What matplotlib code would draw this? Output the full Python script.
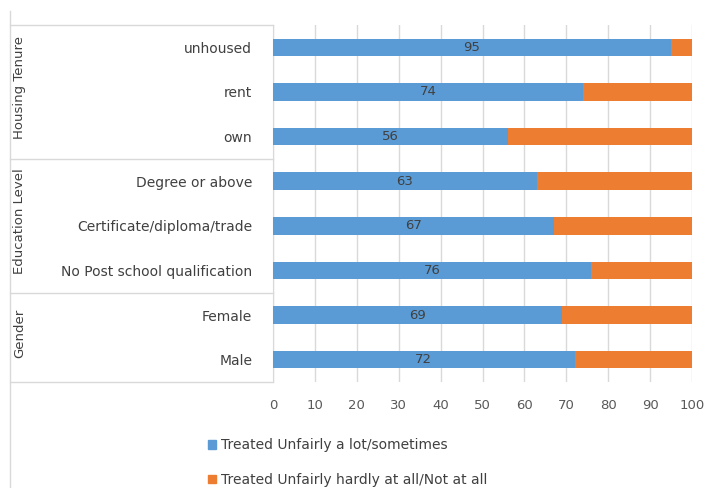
import matplotlib.pyplot as plt
from matplotlib.lines import Line2D
from matplotlib.patches import Patch
import matplotlib.transforms as mtransforms

# top to bottom, as in the chart
categories = ["unhoused", "rent", "own",
              "Degree or above", "Certificate/diploma/trade", "No Post school qualification",
              "Female", "Male"]
unfair_often = [95, 74, 56, 63, 67, 76, 69, 72]
unfair_rarely = [5, 26, 44, 37, 33, 24, 31, 28]
groups = ["Housing Tenure", "Education Level", "Gender"]
group_sizes = [3, 3, 2]
series_names = ["Treated Unfairly a lot/sometimes", "Treated Unfairly hardly at all/Not at all"]
x_ticks = [0, 10, 20, 30, 40, 50, 60, 70, 80, 90, 100]

BLUE = "#5B9BD5"
ORANGE = "#ED7D31"
TEXT = "#404040"
GRID = "#D9D9D9"

plt.rcParams["font.family"] = ["DejaVu Sans"]

W, H = 704, 488
fig = plt.figure(figsize=(W / 100, H / 100), dpi=100)
ax = fig.add_axes([273 / W, 1 - 382 / H, (692 - 273) / W, (382 - 25) / H])

n = len(categories)
ypos = list(range(n))
ax.barh(ypos, unfair_often, height=0.39, color=BLUE, zorder=3)
ax.barh(ypos, unfair_rarely, left=unfair_often, height=0.39, color=ORANGE, zorder=3)

for y, v in zip(ypos, unfair_often):
    ax.text(v / 2, y, str(v), ha="center", va="center", fontsize=9.5, color=TEXT, zorder=4)

ax.set_xlim(0, 100)
ax.set_ylim(n - 0.5, -0.5)
ax.set_xticks(x_ticks)
ax.set_xticklabels([str(t) for t in x_ticks])
ax.tick_params(axis="x", length=0, pad=12, labelsize=9.5, colors="#595959")
ax.set_yticks(ypos)
ax.set_yticklabels(categories)
ax.tick_params(axis="y", length=0, pad=15, labelsize=10, colors=TEXT)
ax.xaxis.grid(True, color=GRID, linewidth=1, zorder=0)
for s in ["top", "right", "bottom"]:
    ax.spines[s].set_visible(False)
ax.spines["left"].set_color(GRID)

# group boxes on the left
def fig_line(x0, y0, x1, y1):
    fig.add_artist(Line2D([x0 / W, x1 / W], [1 - y0 / H, 1 - y1 / H],
                          transform=fig.transFigure, color=GRID, linewidth=1))

fig_line(10, 11, 10, 487)
trans = mtransforms.blended_transform_factory(fig.transFigure, ax.transData)
start = 0
for name, size in zip(groups, group_sizes):
    top = start - 0.5
    fig.add_artist(Line2D([10 / W, 273 / W], [top, top], transform=trans,
                          color=GRID, linewidth=1))
    mid = start + (size - 1) / 2 - 0.1
    fig.text(20 / W, 0, name, transform=trans, rotation=90, ha="center",
             va="center", fontsize=9.5, color=TEXT).set_y(mid)
    start += size
fig.add_artist(Line2D([10 / W, 273 / W], [n - 0.5, n - 0.5], transform=trans,
                      color=GRID, linewidth=1))

handles = [Patch(color=BLUE), Patch(color=ORANGE)]
fig.legend(handles, series_names, loc="upper left",
           bbox_to_anchor=(196 / W, 1 - 426 / H), frameon=False,
           fontsize=10, labelcolor=TEXT, handlelength=0.55, handleheight=0.55,
           handletextpad=0.35, labelspacing=1.45)

fig.savefig("out.png", dpi=100)
